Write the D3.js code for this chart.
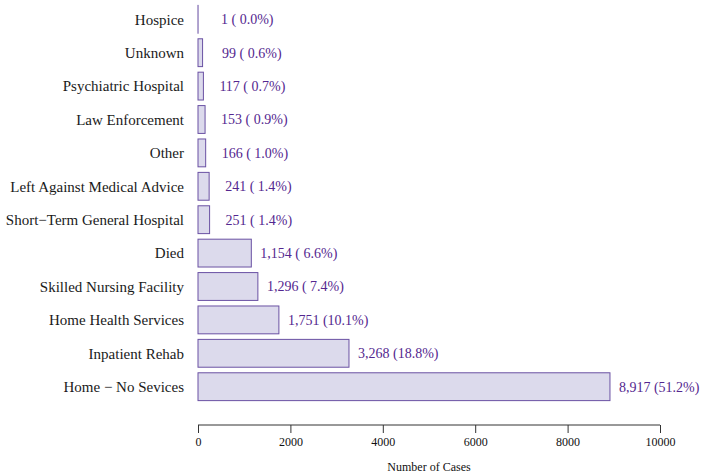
<!DOCTYPE html>
<html>
<head>
<meta charset="utf-8">
<script src="https://cdn.jsdelivr.net/npm/d3@7"></script>
<style>
  html, body { margin: 0; padding: 0; background: #fff; }
  svg text { font-family: "Liberation Serif", "Times New Roman", serif; }
  .pre { white-space: pre; }
</style>
</head>
<body>
<svg id="chart" width="709" height="474"></svg>
<script>
// Discharge disposition counts, listed top to bottom
const categories = [
  "Hospice", "Unknown", "Psychiatric Hospital", "Law Enforcement", "Other",
  "Left Against Medical Advice", "Short\u2212Term General Hospital", "Died",
  "Skilled Nursing Facility", "Home Health Services", "Inpatient Rehab",
  "Home \u2212 No Sevices"
];
const counts = [1, 99, 117, 153, 166, 241, 251, 1154, 1296, 1751, 3268, 8917];
const xTicks = [0, 2000, 4000, 6000, 8000, 10000];

const total = d3.sum(counts);
const data = categories.map((c, i) => ({ cat: c, n: counts[i] }));

const svg = d3.select("#chart");

const x = d3.scaleLinear().domain([0, 10000]).range([198, 660]);
const y = d3.scaleBand()
  .domain(categories)
  .range([2.6, 403.4])
  .paddingInner(0.2 / 1.2)
  .paddingOuter(0.1 / 1.2);

const purple = "#6a51a3";
const textPurple = "#54278f";

// bars
svg.append("g").selectAll("rect")
  .data(data)
  .join("rect")
  .attr("x", x(0))
  .attr("y", d => y(d.cat))
  .attr("width", d => x(d.n) - x(0))
  .attr("height", y.bandwidth())
  .attr("fill", "#dcdaec")
  .attr("stroke", purple)
  .attr("stroke-width", 1);

// category names
svg.append("g").selectAll("text")
  .data(data)
  .join("text")
  .attr("x", 184)
  .attr("y", d => y(d.cat) + y.bandwidth() / 2)
  .attr("dy", "0.35em")
  .attr("text-anchor", "end")
  .attr("font-size", 15)
  .attr("fill", "#1a1a1a")
  .text(d => d.cat);

// value labels: padded count and percentage
const fmtN = d3.format(",");
const label = d => {
  const n = fmtN(d.n).padStart(5, " ");
  const p = (100 * d.n / total).toFixed(1).padStart(4, " ");
  return n + " (" + p + "%)";
};
svg.append("g").selectAll("text")
  .data(data)
  .join("text")
  .attr("class", "pre")
  .attr("x", d => x(d.n) + 9)
  .attr("y", d => y(d.cat) + y.bandwidth() / 2)
  .attr("dy", "0.35em")
  .attr("font-size", 14)
  .attr("fill", textPurple)
  .text(label);

// x axis
const axis = d3.axisBottom(x).tickValues(xTicks).tickFormat(d3.format("d")).tickSize(8).tickPadding(4);
const gx = svg.append("g").attr("transform", "translate(0,425)").call(axis);
gx.select(".domain").attr("stroke", "#333").attr("d", `M${x(0)},0H${x(10000)}`);
gx.selectAll(".tick line").attr("stroke", "#333");
gx.selectAll(".tick text")
  .attr("font-family", "Liberation Serif, Times New Roman, serif")
  .attr("font-size", 12)
  .attr("fill", "#111");

svg.append("text")
  .attr("x", (x(0) + x(10000)) / 2)
  .attr("y", 471)
  .attr("text-anchor", "middle")
  .attr("font-size", 12)
  .attr("fill", "#111")
  .text("Number of Cases");
</script>
</body>
</html>
